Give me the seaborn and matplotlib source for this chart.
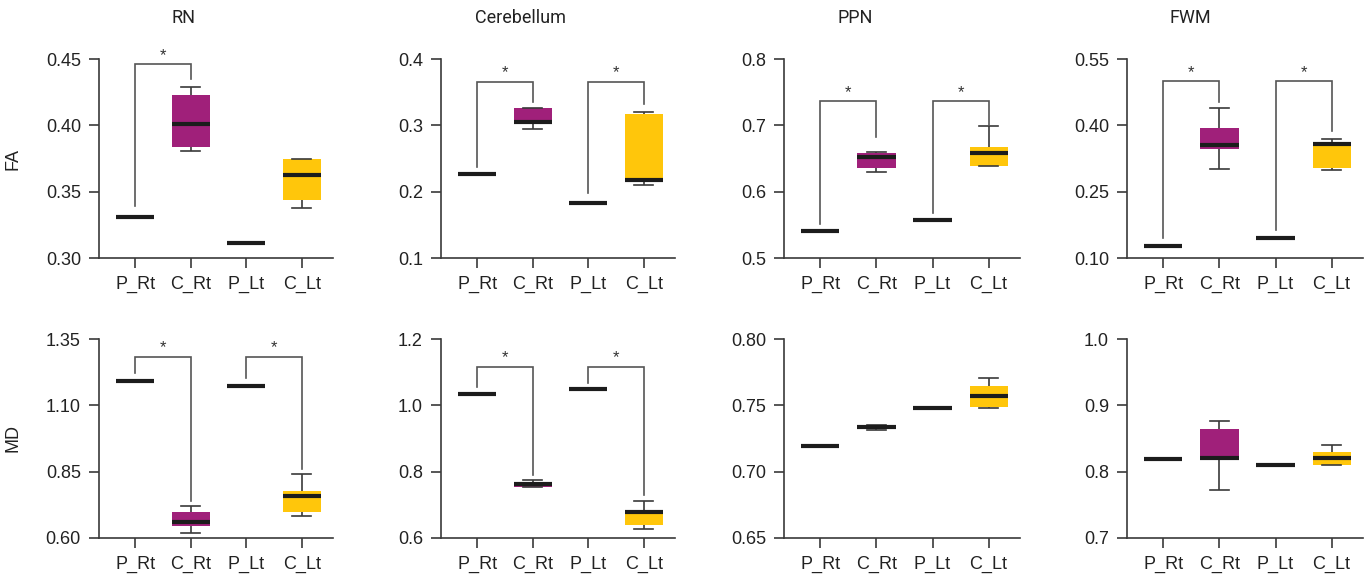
import pandas as pd
import matplotlib.pyplot as plt
import seaborn as sns

# groups on the x axis
groups = ["P_Rt", "C_Rt", "P_Lt", "C_Lt"]
regions = ["RN", "Cerebellum", "PPN", "FWM"]
metrics = ["FA", "MD"]

# patients: one value each; controls: min, q1, median, q3, max
fa_rn = {"P_Rt": [0.331], "C_Rt": [0.381, 0.384, 0.401, 0.4225, 0.429],
         "P_Lt": [0.3115], "C_Lt": [0.338, 0.344, 0.3625, 0.3745, 0.375]}
fa_cereb = {"P_Rt": [0.226], "C_Rt": [0.295, 0.303, 0.305, 0.3255, 0.3255],
            "P_Lt": [0.183], "C_Lt": [0.2105, 0.217, 0.218, 0.317, 0.3205]}
fa_ppn = {"P_Rt": [0.540], "C_Rt": [0.629, 0.635, 0.6525, 0.659, 0.660],
          "P_Lt": [0.558], "C_Lt": [0.638, 0.639, 0.6585, 0.668, 0.699]}
fa_fwm = {"P_Rt": [0.127], "C_Rt": [0.302, 0.347, 0.355, 0.393, 0.439],
          "P_Lt": [0.1445], "C_Lt": [0.299, 0.304, 0.357, 0.361, 0.3695]}
md_rn = {"P_Rt": [1.193], "C_Rt": [0.620, 0.644, 0.662, 0.698, 0.721],
         "P_Lt": [1.174], "C_Lt": [0.683, 0.699, 0.760, 0.777, 0.841]}
md_cereb = {"P_Rt": [1.034], "C_Rt": [0.754, 0.754, 0.763, 0.769, 0.776],
            "P_Lt": [1.050], "C_Lt": [0.627, 0.638, 0.678, 0.6845, 0.7105]}
md_ppn = {"P_Rt": [0.719], "C_Rt": [0.7317, 0.7322, 0.7337, 0.7352, 0.7352],
          "P_Lt": [0.748], "C_Lt": [0.748, 0.7485, 0.7568, 0.7646, 0.7706]}
md_fwm = {"P_Rt": [0.819], "C_Rt": [0.773, 0.817, 0.820, 0.865, 0.877],
          "P_Lt": [0.8105], "C_Lt": [0.8095, 0.8095, 0.821, 0.830, 0.840]}

panel_data = [[fa_rn, fa_cereb, fa_ppn, fa_fwm],
              [md_rn, md_cereb, md_ppn, md_fwm]]

# y ticks for each panel
yticks = [[[0.30, 0.35, 0.40, 0.45], [0.1, 0.2, 0.3, 0.4], [0.5, 0.6, 0.7, 0.8], [0.10, 0.25, 0.40, 0.55]],
          [[0.60, 0.85, 1.10, 1.35], [0.6, 0.8, 1.0, 1.2], [0.65, 0.70, 0.75, 0.80], [0.7, 0.8, 0.9, 1.0]]]
ytick_fmt = [["%.2f", "%.1f", "%.1f", "%.2f"], ["%.2f", "%.1f", "%.2f", "%.1f"]]

# significance brackets: (left group, right group, top, left leg end, right leg end)
brackets = [
    [[(0, 1, 0.446, 0.339, 0.435)],
     [(0, 1, 0.366, 0.2375, 0.3345), (2, 3, 0.366, 0.198, 0.3315)],
     [(0, 1, 0.736, 0.552, 0.683), (2, 3, 0.736, 0.568, 0.700)],
     [(0, 1, 0.4995, 0.145, 0.452), (2, 3, 0.4995, 0.164, 0.388)]],
    [[(0, 1, 1.283, 1.222, 0.741), (2, 3, 1.283, 1.203, 0.861)],
     [(0, 1, 1.117, 1.054, 0.789), (2, 3, 1.117, 1.067, 0.729)],
     [],
     []],
]

palette = {"P_Rt": "#1c1c1c", "C_Rt": "#a0207a", "P_Lt": "#1c1c1c", "C_Lt": "#ffc60b"}
axis_color = "#3a3a3a"

plt.rcParams["font.family"] = ["Liberation Sans", "DejaVu Sans"]

fig = plt.figure(figsize=(13.67, 5.76), dpi=100)
W, H = 1367, 576
lefts = [99, 441, 784, 1127]
rights = [333, 675, 1020, 1363]
tops = [59, 339]
bottoms = [258, 538]
title_x = [183, 520, 855, 1190]

for r in range(2):
    for c in range(4):
        ax = fig.add_axes([lefts[c] / W, 1 - bottoms[r] / H,
                           (rights[c] - lefts[c]) / W, (bottoms[r] - tops[r]) / H])
        d = panel_data[r][c]
        df = pd.DataFrame([(g, v) for g in groups for v in d[g]], columns=["group", "value"])
        sns.boxplot(data=df, x="group", y="value", hue="group", order=groups, hue_order=groups,
                    palette=palette, saturation=1, width=0.68, whis=(0, 100), showfliers=False,
                    legend=False, ax=ax,
                    boxprops=dict(linewidth=0),
                    whiskerprops=dict(color=axis_color, linewidth=1.2),
                    capprops=dict(color=axis_color, linewidth=1.2),
                    medianprops=dict(color="#1c1c1c", linewidth=3))

        for (i, j, top, yl, yr) in brackets[r][c]:
            ax.plot([i, i, j, j], [yl, top, top, yr], color="#555555", linewidth=1.2,
                    solid_joinstyle="miter", zorder=5)
            ax.annotate("*", xy=((i + j) / 2, top), xytext=(0, 1), textcoords="offset points",
                        ha="center", va="bottom", fontsize=12, color="#333333")

        ax.set_xlim(-0.65, 3.56)
        ax.set_ylim(yticks[r][c][0], yticks[r][c][-1])
        ax.set_yticks(yticks[r][c])
        ax.set_yticklabels([ytick_fmt[r][c] % t for t in yticks[r][c]])
        ax.set_xlabel("")
        ax.set_ylabel(metrics[r] if c == 0 else "", fontsize=13, color="#222222")
        ax.yaxis.set_label_coords((22 - lefts[c]) / (rights[c] - lefts[c]), 0.5)
        for s in ["top", "right"]:
            ax.spines[s].set_visible(False)
        for s in ["left", "bottom"]:
            ax.spines[s].set_color(axis_color)
            ax.spines[s].set_linewidth(1.2)
        ax.tick_params(axis="y", length=7, width=1.2, color=axis_color, pad=6,
                       labelsize=13, labelcolor="#222222")
        ax.tick_params(axis="x", length=7, width=1.2, color=axis_color, pad=6,
                       labelsize=13, labelcolor="#222222")
        ax.set_facecolor("white")

    if r == 0:
        for c in range(4):
            fig.text(title_x[c] / W, 1 - 18 / H, regions[c], ha="center", va="center",
                     fontsize=13, color="#222222", family=["Roboto", "DejaVu Sans"])

fig.savefig("out.png", dpi=100)
